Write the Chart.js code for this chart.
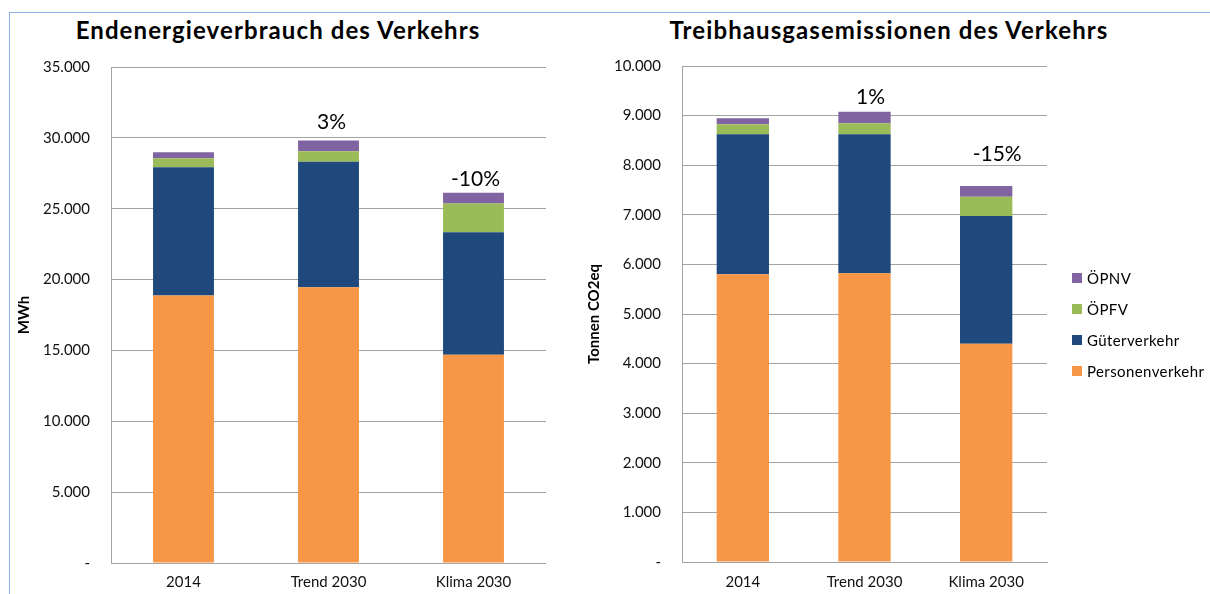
<!DOCTYPE html>
<html lang="de">
<head>
<meta charset="utf-8">
<title>Verkehr – Endenergie und Treibhausgase</title>
<script src="https://cdn.jsdelivr.net/npm/chart.js@4.4.1/dist/chart.umd.min.js"></script>
<style>
  html, body { margin: 0; padding: 0; background: #fff; }
  #page { position: relative; width: 1210px; height: 594px; overflow: hidden; font-family: Lato, 'Open Sans', sans-serif; }
  .frame-top { position: absolute; left: 9px; top: 12px; right: 0; height: 1px; background: #8db3e2; }
  .frame-left { position: absolute; left: 9px; top: 12px; bottom: 0; width: 1px; background: #8db3e2; }
  .chart-title { position: absolute; top: 18px; width: 600px; margin-left: -300px; text-align: center;
                 font-size: 24px; line-height: 24px; font-weight: bold; letter-spacing: 1.1px; color: #000; white-space: nowrap; }
  #energyTitle { left: 278px; }
  #ghgTitle { left: 889px; }
  #energyChart { position: absolute; left: 9px; top: 12px; }
  #ghgChart { position: absolute; left: 569px; top: 12px; }
  #ghgLegend { position: absolute; left: 1072px; top: 262px; font-size: 15px; letter-spacing: 0.4px; color: #000; }
  .lg-row { display: flex; align-items: center; height: 31px; }
  .lg-box { width: 10px; height: 10px; margin-right: 5px; }
</style>
</head>
<body>
<div id="page">
  <div class="frame-top"></div>
  <div class="frame-left"></div>
  <div class="chart-title" id="energyTitle">Endenergieverbrauch des Verkehrs</div>
  <div class="chart-title" id="ghgTitle">Treibhausgasemissionen des Verkehrs</div>
  <canvas id="energyChart" width="537" height="582"></canvas>
  <canvas id="ghgChart" width="641" height="582"></canvas>
  <div id="ghgLegend"></div>
</div>
<script>
'use strict';

// ── DATA ──
const CATEGORIES = ['2014', 'Trend 2030', 'Klima 2030'];

// Endenergieverbrauch (MWh)
const ENERGY_PERSONEN = [18870, 19460, 14700];
const ENERGY_GUETER   = [9050, 8850, 8640];
const ENERGY_OEPFV    = [635, 750, 2025];
const ENERGY_OEPNV    = [425, 755, 755];
const ENERGY_CHANGE   = ['', '3%', '-10%'];

// Treibhausgasemissionen (t CO2eq)
const GHG_PERSONEN = [5800, 5820, 4400];
const GHG_GUETER   = [2825, 2805, 2575];
const GHG_OEPFV    = [200, 220, 390];
const GHG_OEPNV    = [120, 235, 215];
const GHG_CHANGE   = ['', '1%', '-15%'];

const SERIES_NAMES  = ['Personenverkehr', 'Güterverkehr', 'ÖPFV', 'ÖPNV'];
const SERIES_COLORS = ['#f79646', '#1f497d', '#9bbb59', '#8064a2'];

// ── THEME ──
const FONT = 'Lato';
const GRID = '#a3a3a3';
const TEXT = '#111';

Chart.defaults.font.family = FONT;
Chart.defaults.color = TEXT;

// 35000 -> "35.000", 0 -> "-"
const fmtDE = (v) => v === 0 ? '-' : String(v).replace(/\B(?=(\d{3})+(?!\d))/g, '.');

// ── CHANGE LABELS ABOVE STACKS ──
const changeLabels = {
  id: 'changeLabels',
  afterDatasetsDraw(chart, args, opts) {
    const { ctx, scales: { x, y } } = chart;
    ctx.save();
    ctx.font = `21px ${FONT}`;
    ctx.fillStyle = '#000';
    ctx.textAlign = 'center';
    ctx.textBaseline = 'middle';
    (opts.labels || []).forEach((txt, i) => {
      if (!txt) return;
      const total = chart.data.datasets.reduce((s, ds) => s + ds.data[i], 0);
      const [dx, dy] = opts.offsets[i];
      ctx.fillText(txt, x.getPixelForValue(i) + dx, y.getPixelForValue(total) + dy);
    });
    ctx.restore();
  }
};

// ── STACKED BAR CHART ──
const renderStack = (canvasId, cfg) => {
  const ctx = document.getElementById(canvasId).getContext('2d');
  const datasets = cfg.series.map((data, i) => ({
    label: SERIES_NAMES[i],
    data,
    backgroundColor: SERIES_COLORS[i],
    borderWidth: 0,
    categoryPercentage: 1,
    barPercentage: cfg.barPct,
  }));

  return new Chart(ctx, {
    type: 'bar',
    data: { labels: CATEGORIES, datasets },
    plugins: [changeLabels],
    options: {
      responsive: false,
      animation: false,
      devicePixelRatio: 1,
      layout: { padding: { left: 0, top: cfg.padTop, bottom: 0, right: cfg.padRight } },
      plugins: {
        legend: { display: false },
        tooltip: { enabled: false },
        title: { display: false },
        changeLabels: { labels: cfg.change, offsets: cfg.offsets },
      },
      scales: {
        x: {
          stacked: true,
          grid: { display: false, drawTicks: false },
          border: { display: true, color: GRID },
          ticks: { font: { size: 15 }, color: TEXT, padding: cfg.xPad },
          afterFit: (s) => { s.height = cfg.xHeight; },
        },
        y: {
          stacked: true,
          min: 0,
          max: cfg.max,
          grid: { color: GRID, drawTicks: false },
          border: { display: true, color: GRID },
          ticks: { stepSize: cfg.step, font: { size: 15 }, color: TEXT, padding: 21, callback: fmtDE },
          title: {
            display: true,
            text: cfg.axisTitle,
            color: '#000',
            font: { size: 15, weight: 'bold' },
            padding: { top: cfg.yTitlePad, bottom: 0 },
          },
          afterFit: (s) => { s.width = cfg.yWidth; },
        },
      },
    },
  });
};

const energyChart = renderStack('energyChart', {
  axisTitle: 'MWh',
  series: [ENERGY_PERSONEN, ENERGY_GUETER, ENERGY_OEPFV, ENERGY_OEPNV],
  change: ENERGY_CHANGE,
  offsets: [[0, 0], [3, -18], [2, -14]],
  max: 35000, step: 5000,
  barPct: 0.42,
  yWidth: 102, yTitlePad: 6,
  xHeight: 31, xPad: 10,
  padTop: 55, padRight: 0,
});

const ghgChart = renderStack('ghgChart', {
  axisTitle: 'Tonnen CO2eq',
  series: [GHG_PERSONEN, GHG_GUETER, GHG_OEPFV, GHG_OEPNV],
  change: GHG_CHANGE,
  offsets: [[0, 0], [6, -14], [11, -32]],
  max: 10000, step: 1000,
  barPct: 0.43,
  yWidth: 113, yTitlePad: 16,
  xHeight: 32, xPad: 11,
  padTop: 54, padRight: 163,
});

// ── LEGEND (top entry = top of stack) ──
const legendEl = document.getElementById('ghgLegend');
legendEl.innerHTML = ghgChart.data.datasets.slice().reverse().map(ds => `
  <div class="lg-row"><span class="lg-box" style="background:${ds.backgroundColor}"></span>${ds.label}</div>`).join('');
</script>
</body>
</html>
